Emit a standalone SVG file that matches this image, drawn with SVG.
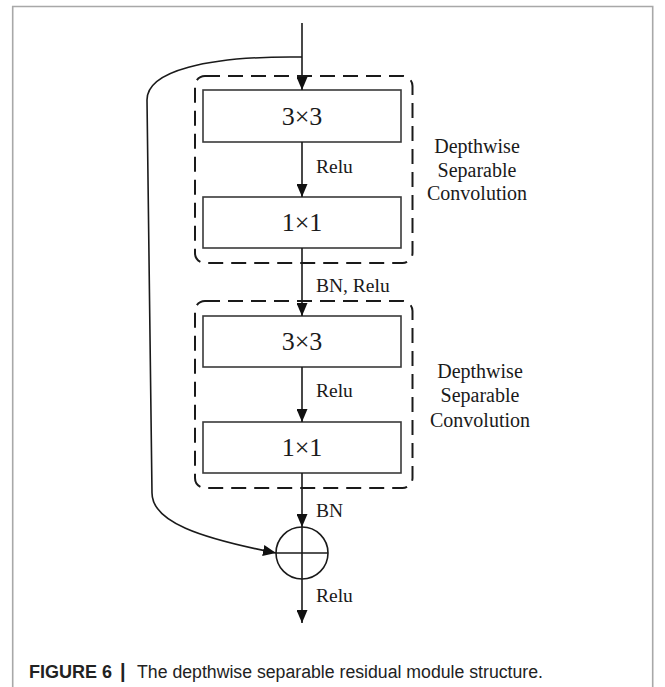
<svg xmlns="http://www.w3.org/2000/svg" width="665" height="687" viewBox="0 0 665 687">
<style>
.frame{fill:none;stroke:#a8a8a8;stroke-width:1.6}
.box{fill:#fff;stroke:#3a3a3a;stroke-width:1.6}
.dash{fill:none;stroke:#1a1a1a;stroke-width:2;stroke-dasharray:15 8}
.ln{fill:none;stroke:#1a1a1a;stroke-width:1.6}
.big{font-family:"Liberation Serif","Times New Roman",serif;font-size:26px;fill:#1a1a1a;text-anchor:middle}
.lbl{font-family:"Liberation Serif","Times New Roman",serif;font-size:19.5px;fill:#1a1a1a}
.grp{font-family:"Liberation Serif","Times New Roman",serif;font-size:20px;fill:#1a1a1a;text-anchor:middle}
.cap{font-family:"Liberation Sans",Arial,sans-serif;font-size:18px;fill:#222}
</style>
<defs>
<marker id="arr" viewBox="0 0 13 11" refX="13" refY="5.5" markerWidth="13" markerHeight="11" markerUnits="userSpaceOnUse" orient="auto">
<path d="M0,0 L13,5.5 L0,11 Z" fill="#111"/>
</marker>
</defs>
<rect width="665" height="687" fill="#fff"/>
<path class="frame" d="M12.7,687 V6.5 H652.7 V687"/>

<g id="dw1">
<rect class="dash" x="195" y="76" width="217.5" height="187" rx="10"/>
<text class="grp" x="477" y="153">Depthwise</text>
<text class="grp" x="477" y="177">Separable</text>
<text class="grp" x="477" y="200">Convolution</text>
</g>
<g id="dw2">
<rect class="dash" x="195" y="301" width="217.5" height="187" rx="10"/>
<text class="grp" x="480" y="378">Depthwise</text>
<text class="grp" x="480" y="402">Separable</text>
<text class="grp" x="480" y="427">Convolution</text>
</g>

<g id="conv3a"><rect class="box" x="203" y="90" width="198" height="52"/><text class="big" x="302" y="125">3×3</text></g>
<g id="conv1a"><rect class="box" x="203" y="197" width="198" height="51"/><text class="big" x="302" y="231">1×1</text></g>
<g id="conv3b"><rect class="box" x="203" y="316" width="198" height="51"/><text class="big" x="302" y="350">3×3</text></g>
<g id="conv1b"><rect class="box" x="203" y="422" width="198" height="51"/><text class="big" x="302" y="456">1×1</text></g>
<g id="add">
<circle class="ln" cx="302" cy="553" r="26"/>
<line class="ln" x1="276" y1="553" x2="328" y2="553"/>
<line class="ln" x1="302" y1="527" x2="302" y2="579"/>
</g>

<g id="connectors">
<line class="ln" x1="302" y1="23" x2="302" y2="90" marker-end="url(#arr)"/>
<line class="ln" x1="302" y1="142" x2="302" y2="197" marker-end="url(#arr)"/>
<line class="ln" x1="302" y1="248" x2="302" y2="316" marker-end="url(#arr)"/>
<line class="ln" x1="302" y1="367" x2="302" y2="422" marker-end="url(#arr)"/>
<line class="ln" x1="302" y1="473" x2="302" y2="527" marker-end="url(#arr)"/>
<line class="ln" x1="302" y1="579" x2="302" y2="623" marker-end="url(#arr)"/>
<path class="ln" d="M302,57 L290,57 C210,57 147,70 147,100 L152,493 C152,522 200,538 276,553" marker-end="url(#arr)"/>
<text class="lbl" x="316" y="173">Relu</text>
<text class="lbl" x="316" y="292">BN, Relu</text>
<text class="lbl" x="316" y="397">Relu</text>
<text class="lbl" x="316" y="517">BN</text>
<text class="lbl" x="316" y="602">Relu</text>
</g>

<text class="cap" y="678"><tspan x="29" font-weight="bold">FIGURE 6</tspan><tspan x="120" font-size="20" font-weight="bold">|</tspan><tspan x="137" textLength="406" lengthAdjust="spacingAndGlyphs">The depthwise separable residual module structure.</tspan></text>
</svg>
